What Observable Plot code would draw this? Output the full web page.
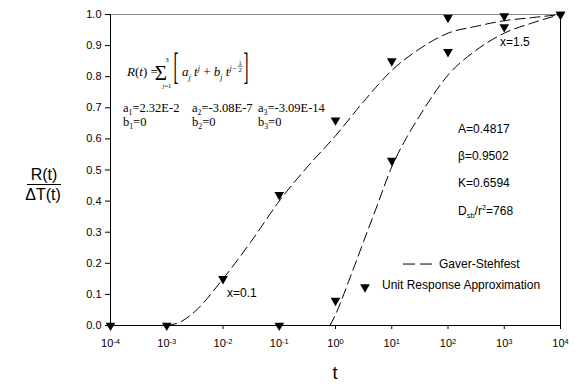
<!DOCTYPE html>
<html><head><meta charset="utf-8">
<script src="https://cdn.jsdelivr.net/npm/d3@7"></script>
<script src="https://cdn.jsdelivr.net/npm/@observablehq/plot@0.6"></script>
<style>body{margin:0;background:#fff} svg{display:block}</style>
</head><body><div id="chart"></div>
<script>
// ---------- data ----------
const xTicks = [1e-4, 1e-3, 1e-2, 1e-1, 1, 10, 100, 1000, 10000];
const yTicks = [0, 0.1, 0.2, 0.3, 0.4, 0.5, 0.6, 0.7, 0.8, 0.9, 1.0];

// Gaver-Stehfest curves
const curveX01T = [0.001, 0.00178, 0.00316, 0.01, 0.0316, 0.1, 0.316, 1, 3.16, 10, 31.6, 100, 316, 1000, 3162, 10000];
const curveX01V = [0, 0.012, 0.045, 0.15, 0.27, 0.40, 0.51, 0.61, 0.72, 0.82, 0.89, 0.94, 0.962, 0.98, 0.99, 1.0];
const curveX15T = [0.8, 1, 1.78, 3.16, 5.62, 10, 17.8, 31.6, 56.2, 100, 316, 1000, 3162, 10000];
const curveX15V = [0, 0.035, 0.15, 0.27, 0.39, 0.51, 0.60, 0.675, 0.745, 0.805, 0.885, 0.94, 0.973, 1.0];

// Unit response approximation points
const ptsX01T = [1e-4, 1e-3, 1e-2, 1e-1, 1, 10, 100, 1000, 10000];
const ptsX01V = [0, 0, 0.15, 0.42, 0.66, 0.85, 0.99, 0.995, 1.0];
const ptsX15T = [1e-1, 1, 10, 100, 1000, 10000];
const ptsX15V = [0, 0.08, 0.53, 0.88, 0.96, 1.0];

const coefA = ["2.32E-2", "-3.08E-7", "-3.09E-14"];
const coefB = ["0", "0", "0"];
const paramNames = ["A", "β", "K"];
const paramValues = ["0.4817", "0.9502", "0.6594"];
const dsbValue = "768";
const curveLabels = ["x=0.1", "x=1.5"];
const legendLabels = ["Gaver-Stehfest", "Unit Response Approximation"];

// ---------- helpers ----------
const SANS = "Liberation Sans, Arial, Helvetica, sans-serif";
const SERIF = "Liberation Serif, Times New Roman, serif";
const zip = (T, V) => T.map((t, i) => ({t, v: V[i]}));
const downTriangle = {
  draw(ctx, size) {
    const s = Math.sqrt(4 * size / Math.sqrt(3));
    const h = s * Math.sqrt(3) / 2;
    ctx.moveTo(-s / 2, -h / 3);
    ctx.lineTo(s / 2, -h / 3);
    ctx.lineTo(0, 2 * h / 3);
    ctx.closePath();
  }
};
const dash = "10,5";

const chart = Plot.plot({
  width: 578, height: 384,
  marginLeft: 110, marginRight: 18, marginTop: 14, marginBottom: 59,
  style: {fontFamily: SANS, fontSize: "11px", color: "#000", background: "#fff", overflow: "visible"},
  x: {type: "log", domain: [1e-4, 1e4], ticks: xTicks,
      tickFormat: d => "10^" + Math.round(Math.log10(d)), tickSize: 4, tickPadding: 10, label: null},
  y: {domain: [0, 1], ticks: yTicks, tickFormat: d3.format(".1f"), tickSize: 5, tickPadding: 4, label: null},
  marks: [
    Plot.ruleY([1], {stroke: "#8a8a8a"}),
    Plot.ruleX([1e4], {stroke: "#000"}),
    Plot.ruleX([1e-4], {stroke: "#000"}),
    Plot.ruleY([0], {stroke: "#000"}),
    Plot.line(zip(curveX01T, curveX01V), {x: "t", y: "v", curve: "monotone-x", stroke: "#000", strokeWidth: 1, strokeDasharray: dash}),
    Plot.line(zip(curveX15T, curveX15V), {x: "t", y: "v", curve: "monotone-x", stroke: "#000", strokeWidth: 1, strokeDasharray: dash}),
    Plot.dot(zip(ptsX01T, ptsX01V), {x: "t", y: "v", symbol: downTriangle, r: 3.6, fill: "#000", stroke: "none"}),
    Plot.dot(zip(ptsX15T, ptsX15V), {x: "t", y: "v", symbol: downTriangle, r: 3.6, fill: "#000", stroke: "none"})
  ]
});
document.getElementById("chart").appendChild(chart);

const svg = d3.select(chart);
// superscript x tick labels
svg.selectAll('g[aria-label="x-axis tick label"] text').each(function () {
  const [b, e] = this.textContent.split("^");
  const sel = d3.select(this);
  sel.text(null);
  sel.append("tspan").text(b);
  sel.append("tspan").attr("font-size", "7.5px").attr("dy", "-0.5em").text(e);
});

const sx = chart.scale("x"), sy = chart.scale("y");
const X = e => sx.apply(Math.pow(10, e));
const Y = v => sy.apply(v);
const g = svg.append("g");

function rich(parent, x, y, segs, o = {}) {
  const fs = o.fs || 12;
  const t = parent.append("text").attr("x", x).attr("y", y)
    .attr("font-family", o.ff || SANS).attr("font-size", fs).attr("fill", "#000")
    .attr("text-anchor", o.anchor || "start");
  let cur = 0;
  for (const s of segs) {
    const seg = typeof s === "string" ? {t: s} : s;
    const off = seg.sub ? fs * 0.28 : seg.sup ? -fs * 0.42 : 0;
    const sp = t.append("tspan").attr("dy", off - cur).text(seg.t);
    cur = off;
    if (seg.sub || seg.sup) sp.attr("font-size", fs * (seg.scale || 0.62));
    if (seg.it) sp.attr("font-style", "italic");
  }
  return t;
}
const w = sel => sel.node().getComputedTextLength();

// ---------- formula ----------
{
  const fy = Y(0.80), fs = 13;
  let x = X(-3.698);
  const t1 = rich(g, x, fy, [{t: "R", it: 1}, "(", {t: "t", it: 1}, ") ="], {ff: SERIF, fs});
  x += w(t1) + 3;
  const sig = g.append("text").attr("x", x).attr("y", fy + 4).attr("font-family", SERIF).attr("font-size", 21).text("Σ");
  const sw = w(sig), cx = x + sw / 2;
  g.append("text").attr("x", cx).attr("y", fy - 14).attr("text-anchor", "middle").attr("font-family", SERIF).attr("font-size", 7).text("3");
  rich(g, cx, fy + 12, [{t: "j", it: 1}, "=1"], {ff: SERIF, fs: 6.5, anchor: "middle"});
  x += sw + 3;
  const br = (ch, xx) => g.append("text").attr("font-family", SERIF).attr("font-size", 15)
    .attr("transform", `translate(${xx},${fy + 3}) scale(1,2.5)`).text(ch);
  const lb = br("[", x);
  x += w(lb) + 1;
  const inner = rich(g, x, fy, [{t: "a", it: 1}, {t: "j", it: 1, sub: 1}, {t: " t", it: 1}, {t: "j", it: 1, sup: 1},
    " + ", {t: "b", it: 1}, {t: "j", it: 1, sub: 1}, {t: " t", it: 1}, {t: "j−", it: 1, sup: 1}], {ff: SERIF, fs});
  x += w(inner) + 1;
  g.append("text").attr("x", x + 2).attr("y", fy - 11).attr("text-anchor", "middle").attr("font-family", SERIF).attr("font-size", 6.5).text("1");
  g.append("line").attr("x1", x - 0.5).attr("x2", x + 4.5).attr("y1", fy - 10).attr("y2", fy - 10).attr("stroke", "#000").attr("stroke-width", 0.6);
  g.append("text").attr("x", x + 2).attr("y", fy - 4.5).attr("text-anchor", "middle").attr("font-family", SERIF).attr("font-size", 6.5).text("2");
  x += 8;
  br("]", x);
}

// ---------- coefficients ----------
{
  const xs = [X(-3.769), X(-2.542), X(-1.369)];
  coefA.forEach((c, i) => rich(g, xs[i], Y(0.685), ["a", {t: String(i + 1), sub: 1}, "=" + c], {ff: SERIF, fs: 12.5}));
  coefB.forEach((c, i) => rich(g, xs[i], Y(0.64), ["b", {t: String(i + 1), sub: 1}, "=" + c], {ff: SERIF, fs: 12.5}));
}

// ---------- parameters ----------
{
  const px = X(2.187);
  const ys = [0.617, 0.531, 0.444];
  paramNames.forEach((n, i) => rich(g, px, Y(ys[i]), [n + "=" + paramValues[i]], {fs: 12}));
  rich(g, px, Y(0.354), ["D", {t: "sb", sub: 1}, "/r", {t: "2", sup: 1}, "=" + dsbValue], {fs: 12});
}

// ---------- curve labels ----------
rich(g, X(-1.92), Y(0.09), [curveLabels[0]], {fs: 12});
rich(g, X(2.933), Y(0.897), [curveLabels[1]], {fs: 12});

// ---------- legend ----------
g.append("line").attr("x1", X(1.209)).attr("x2", X(1.742)).attr("y1", Y(0.196)).attr("y2", Y(0.196))
  .attr("stroke", "#000").attr("stroke-dasharray", "12,5");
rich(g, X(1.849), Y(0.183), [legendLabels[0]], {fs: 12});
g.append("path").attr("d", d3.symbol(downTriangle, Math.PI * 3.6 * 3.6)())
  .attr("transform", `translate(${X(0.533)},${Y(0.122)})`).attr("fill", "#000");
rich(g, X(0.836), Y(0.116), [legendLabels[1]], {fs: 12});

// ---------- axis titles ----------
{
  const gy = svg.append("g").attr("font-family", SANS).attr("font-size", 16).attr("text-anchor", "middle").attr("fill", "#000");
  gy.append("text").attr("x", 44).attr("y", 180).text("R(t)");
  gy.append("line").attr("x1", 27).attr("x2", 61).attr("y1", 184.5).attr("y2", 184.5).attr("stroke", "#000").attr("stroke-width", 1.2);
  gy.append("text").attr("x", 43).attr("y", 200).text("ΔT(t)");
  svg.append("text").attr("x", X(0)).attr("y", 379).attr("text-anchor", "middle")
    .attr("font-family", SANS).attr("font-size", 18).text("t");
}
</script>
</body></html>
